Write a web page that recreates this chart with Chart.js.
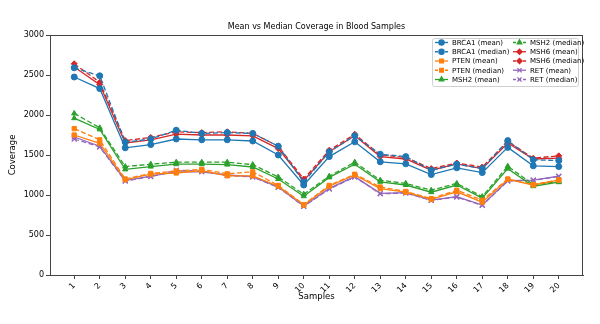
<!DOCTYPE html>
<html>
<head>
<meta charset="utf-8">
<script src="https://cdn.jsdelivr.net/npm/chart.js@4.4.0/dist/chart.umd.min.js"></script>
<style>
  html, body { margin: 0; padding: 0; background: #fff; }
</style>
</head>
<body>
<canvas id="coverageChart" width="600" height="324"></canvas>
<script>
// Samples on the x axis
const samples = [1, 2, 3, 4, 5, 6, 7, 8, 9, 10, 11, 12, 13, 14, 15, 16, 17, 18, 19, 20];
const yTicks = [0, 500, 1000, 1500, 2000, 2500, 3000];

// Coverage values
const brca1Mean   = [2475, 2330, 1590, 1630, 1700, 1690, 1690, 1675, 1500, 1125, 1480, 1665, 1415, 1390, 1255, 1340, 1280, 1595, 1365, 1355];
const brca1Median = [2590, 2490, 1660, 1700, 1810, 1770, 1780, 1770, 1610, 1160, 1540, 1740, 1510, 1480, 1310, 1385, 1330, 1680, 1440, 1430];
const ptenMean    = [1750, 1645, 1190, 1260, 1275, 1305, 1240, 1240, 1110, 875, 1110, 1250, 1080, 1035, 945, 1040, 910, 1195, 1125, 1185];
const ptenMedian  = [1830, 1690, 1200, 1270, 1300, 1320, 1265, 1290, 1120, 880, 1120, 1260, 1100, 1045, 955, 1060, 935, 1200, 1130, 1190];
const msh2Mean    = [1960, 1820, 1320, 1355, 1385, 1385, 1380, 1350, 1200, 985, 1220, 1385, 1165, 1125, 1035, 1125, 960, 1330, 1110, 1160];
const msh2Median  = [2020, 1840, 1355, 1385, 1410, 1410, 1410, 1380, 1225, 1010, 1235, 1410, 1185, 1145, 1060, 1145, 980, 1360, 1130, 1170];
const msh6Mean    = [2600, 2380, 1650, 1690, 1760, 1750, 1750, 1740, 1580, 1180, 1540, 1740, 1480, 1450, 1310, 1390, 1330, 1650, 1450, 1460];
const msh6Median  = [2640, 2410, 1680, 1720, 1790, 1780, 1790, 1770, 1610, 1200, 1560, 1760, 1500, 1470, 1330, 1400, 1350, 1670, 1460, 1490];
const retMean     = [1725, 1610, 1180, 1235, 1290, 1290, 1250, 1230, 1100, 862, 1083, 1230, 1020, 1030, 937, 980, 875, 1180, 1187, 1235];
const retMedian   = [1700, 1600, 1175, 1230, 1310, 1300, 1245, 1225, 1095, 858, 1075, 1225, 1015, 1025, 932, 975, 870, 1175, 1185, 1230];

const seriesList = [
  { label: 'BRCA1 (mean)',   data: brca1Mean,   color: '#1f77b4', marker: 'circle',   dashed: false },
  { label: 'BRCA1 (median)', data: brca1Median, color: '#1f77b4', marker: 'circle',   dashed: true },
  { label: 'PTEN (mean)',    data: ptenMean,    color: '#ff7f0e', marker: 'rect',     dashed: false },
  { label: 'PTEN (median)',  data: ptenMedian,  color: '#ff7f0e', marker: 'rect',     dashed: true },
  { label: 'MSH2 (mean)',    data: msh2Mean,    color: '#2ca02c', marker: 'triangle', dashed: false },
  { label: 'MSH2 (median)',  data: msh2Median,  color: '#2ca02c', marker: 'triangle', dashed: true },
  { label: 'MSH6 (mean)',    data: msh6Mean,    color: '#d62728', marker: 'rectRot',  dashed: false },
  { label: 'MSH6 (median)',  data: msh6Median,  color: '#d62728', marker: 'rectRot',  dashed: true },
  { label: 'RET (mean)',     data: retMean,     color: '#9467bd', marker: 'crossRot', dashed: false },
  { label: 'RET (median)',   data: retMedian,   color: '#9467bd', marker: 'crossRot', dashed: true }
];

const FONT = 'DejaVu Sans';
const AXIS_COLOR = '#444';

const datasets = seriesList.map(s => ({
  label: s.label,
  data: s.data.map((v, i) => ({ x: samples[i], y: v })),
  borderColor: s.color,
  backgroundColor: s.color,
  borderWidth: 1.3,
  borderDash: s.dashed ? [5, 2.5] : [],
  pointStyle: s.marker,
  pointRadius: s.marker === 'crossRot' ? 3.5 : 3,
  pointBorderWidth: s.marker === 'crossRot' ? 1.2 : 1,
  pointBackgroundColor: s.color,
  pointBorderColor: s.color,
  tension: 0,
  fill: false
}));

// Title, top/right spines and the two-column legend
const decorations = {
  id: 'decorations',
  afterDraw(chart) {
    const ctx = chart.ctx;
    const area = chart.chartArea;
    ctx.save();

    // frame around the plot
    ctx.strokeStyle = AXIS_COLOR;
    ctx.lineWidth = 1;
    ctx.strokeRect(area.left + 0.5, area.top + 0.5, area.right - area.left - 1, area.bottom - area.top);

    // title
    ctx.fillStyle = '#000';
    ctx.font = '8px "' + FONT + '"';
    ctx.textAlign = 'center';
    ctx.textBaseline = 'middle';
    ctx.fillText('Mean vs Median Coverage in Blood Samples', (area.left + area.right) / 2, 27);

    // legend box
    const boxX = 432.5, boxY = 38.5, boxW = 146, boxH = 48;
    ctx.fillStyle = 'rgba(255,255,255,0.85)';
    ctx.strokeStyle = '#d0d0d0';
    ctx.lineWidth = 1;
    ctx.beginPath();
    ctx.roundRect(boxX, boxY, boxW, boxH, 2);
    ctx.fill();
    ctx.stroke();

    ctx.font = '7px "' + FONT + '"';
    ctx.textAlign = 'left';
    seriesList.forEach((s, i) => {
      const col = Math.floor(i / 5);
      const row = i % 5;
      const x0 = col === 0 ? 435 : 513;
      const y = 42.5 + row * 9.25;
      ctx.strokeStyle = s.color;
      ctx.lineWidth = 1.3;
      ctx.setLineDash(s.dashed ? [3, 2] : []);
      ctx.beginPath();
      ctx.moveTo(x0, y);
      ctx.lineTo(x0 + 13, y);
      ctx.stroke();
      ctx.setLineDash([]);
      ctx.fillStyle = s.color;
      Chart.helpers.drawPoint(ctx, {
        pointStyle: s.marker,
        radius: s.marker === 'crossRot' ? 3 : 2.6,
        borderWidth: 1,
        rotation: 0
      }, x0 + 6.5, y);
      ctx.fillStyle = '#000';
      ctx.fillText(s.label, x0 + 17, y + 0.5);
    });

    ctx.restore();
  }
};

const chartCtx = document.getElementById('coverageChart').getContext('2d');
const coverageChart = new Chart(chartCtx, {
  type: 'line',
  data: { datasets: datasets },
  options: {
    responsive: false,
    animation: false,
    layout: { padding: { top: 35, right: 17, left: 0, bottom: 0 } },
    plugins: {
      legend: { display: false },
      title: { display: false },
      tooltip: { enabled: false }
    },
    scales: {
      x: {
        type: 'linear',
        min: 0.05,
        max: 20.95,
        afterBuildTicks: scale => { scale.ticks = samples.map(v => ({ value: v })); },
        afterFit: scale => { scale.height = 49; },
        grid: { drawOnChartArea: false, drawTicks: true, tickLength: 4, color: AXIS_COLOR },
        border: { display: true, color: AXIS_COLOR, width: 1 },
        ticks: {
          autoSkip: false,
          maxRotation: 45,
          minRotation: 45,
          padding: 2,
          color: '#000',
          font: { family: FONT, size: 8 },
          callback: v => String(v)
        },
        title: {
          display: true,
          text: 'Samples',
          color: '#000',
          font: { family: FONT, size: 8.5 },
          padding: { top: 0, bottom: 22 }
        }
      },
      y: {
        min: 0,
        max: 3000,
        afterBuildTicks: scale => { scale.ticks = yTicks.map(v => ({ value: v })); },
        afterFit: scale => { scale.width = 50; },
        grid: { drawOnChartArea: false, drawTicks: true, tickLength: 4, color: AXIS_COLOR },
        border: { display: true, color: AXIS_COLOR, width: 1 },
        ticks: {
          padding: 2,
          color: '#000',
          font: { family: FONT, size: 8 },
          callback: v => String(v)
        },
        title: {
          display: true,
          text: 'Coverage',
          color: '#000',
          font: { family: FONT, size: 8.5 },
          padding: { top: 8, bottom: 0 }
        }
      }
    }
  },
  plugins: [decorations]
});
</script>
</body>
</html>
